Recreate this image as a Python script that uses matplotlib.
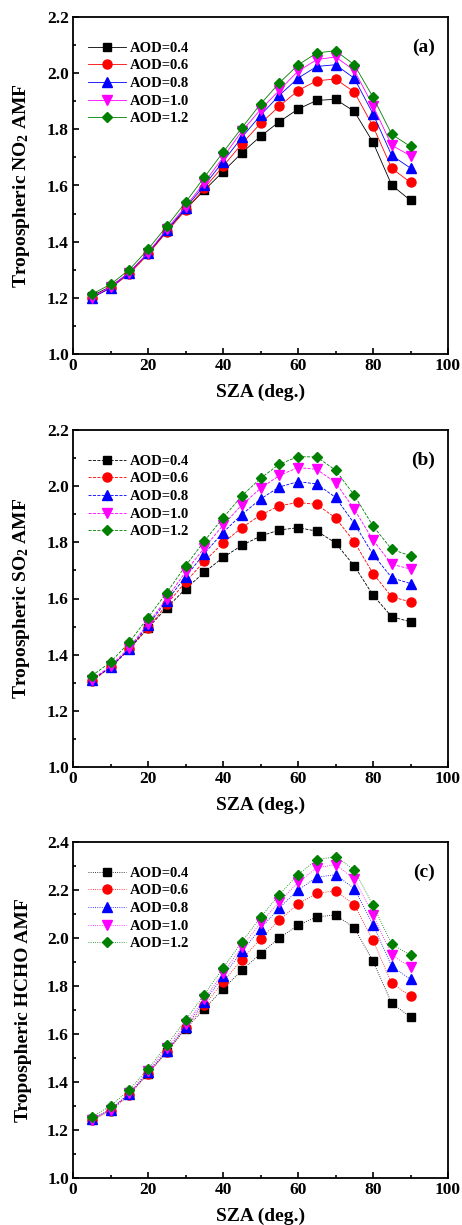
import numpy as np
import matplotlib
matplotlib.use('Agg')
import matplotlib.pyplot as plt
from matplotlib.ticker import MultipleLocator

plt.rcParams['font.family'] = ['Liberation Serif', 'DejaVu Serif']
plt.rcParams['font.weight'] = 'bold'
plt.rcParams['mathtext.fontset'] = 'custom'
plt.rcParams['mathtext.rm'] = 'Liberation Serif:bold'
plt.rcParams['mathtext.it'] = 'Liberation Serif:bold'
plt.rcParams['mathtext.bf'] = 'Liberation Serif:bold'

sza = [5, 10, 15, 20, 25, 30, 35, 40, 45, 50, 55, 60, 65, 70, 75, 80, 85, 90]
aod_labels = ['AOD=0.4', 'AOD=0.6', 'AOD=0.8', 'AOD=1.0', 'AOD=1.2']

# (a) tropospheric NO2 AMF
no2_04 = [1.207, 1.240, 1.290, 1.358, 1.438, 1.515, 1.583, 1.649, 1.716, 1.775, 1.827, 1.872, 1.903, 1.907, 1.864, 1.754, 1.601, 1.547]
no2_06 = [1.200, 1.235, 1.285, 1.355, 1.435, 1.512, 1.590, 1.668, 1.748, 1.821, 1.882, 1.938, 1.973, 1.979, 1.933, 1.811, 1.661, 1.611]
no2_08 = [1.200, 1.235, 1.290, 1.360, 1.440, 1.520, 1.600, 1.685, 1.771, 1.850, 1.921, 1.982, 2.024, 2.030, 1.982, 1.855, 1.707, 1.662]
no2_10 = [1.200, 1.240, 1.290, 1.360, 1.445, 1.525, 1.610, 1.700, 1.793, 1.870, 1.939, 2.007, 2.048, 2.058, 2.010, 1.884, 1.743, 1.706]
no2_12 = [1.213, 1.248, 1.300, 1.373, 1.455, 1.540, 1.629, 1.718, 1.805, 1.890, 1.965, 2.029, 2.072, 2.080, 2.030, 1.915, 1.782, 1.739]

# (b) tropospheric SO2 AMF
so2_04 = [1.309, 1.355, 1.420, 1.495, 1.567, 1.634, 1.693, 1.746, 1.789, 1.822, 1.844, 1.852, 1.840, 1.798, 1.716, 1.612, 1.535, 1.517]
so2_06 = [1.305, 1.355, 1.420, 1.495, 1.579, 1.659, 1.732, 1.798, 1.852, 1.897, 1.930, 1.942, 1.935, 1.887, 1.802, 1.689, 1.606, 1.588]
so2_08 = [1.310, 1.355, 1.420, 1.505, 1.592, 1.677, 1.760, 1.835, 1.899, 1.954, 1.997, 2.016, 2.008, 1.960, 1.867, 1.757, 1.674, 1.653]
so2_10 = [1.310, 1.360, 1.425, 1.510, 1.600, 1.695, 1.780, 1.861, 1.933, 1.992, 2.038, 2.066, 2.060, 2.013, 1.918, 1.808, 1.722, 1.705]
so2_12 = [1.325, 1.373, 1.444, 1.532, 1.621, 1.716, 1.804, 1.887, 1.965, 2.028, 2.078, 2.105, 2.104, 2.057, 1.968, 1.858, 1.775, 1.752]

# (c) tropospheric HCHO AMF
hcho_04 = [1.245, 1.285, 1.350, 1.435, 1.525, 1.621, 1.704, 1.788, 1.865, 1.935, 2.000, 2.053, 2.088, 2.096, 2.043, 1.903, 1.728, 1.671]
hcho_06 = [1.240, 1.280, 1.345, 1.435, 1.525, 1.625, 1.719, 1.817, 1.910, 1.996, 2.074, 2.142, 2.186, 2.197, 2.139, 1.990, 1.811, 1.758]
hcho_08 = [1.245, 1.285, 1.350, 1.440, 1.530, 1.630, 1.733, 1.840, 1.944, 2.039, 2.125, 2.200, 2.253, 2.264, 2.206, 2.056, 1.882, 1.828]
hcho_10 = [1.240, 1.285, 1.355, 1.445, 1.540, 1.640, 1.745, 1.854, 1.963, 2.063, 2.150, 2.232, 2.292, 2.306, 2.247, 2.097, 1.929, 1.879]
hcho_12 = [1.254, 1.300, 1.368, 1.454, 1.553, 1.658, 1.764, 1.875, 1.983, 2.086, 2.181, 2.264, 2.326, 2.339, 2.285, 2.136, 1.975, 1.928]

colors = ['black', 'red', 'blue', 'magenta', 'green']
markers = ['s', 'o', '^', 'v', 'D']
sizes = [5.5, 6.5, 6.5, 6.5, 5.5]

panels = [
    ([no2_04, no2_06, no2_08, no2_10, no2_12], r'Tropospheric NO$_2$ AMF', 2.2, '(a)', '-'),
    ([so2_04, so2_06, so2_08, so2_10, so2_12], r'Tropospheric SO$_2$ AMF', 2.2, '(b)', '--'),
    ([hcho_04, hcho_06, hcho_08, hcho_10, hcho_12], 'Tropospheric HCHO AMF', 2.4, '(c)', ':'),
]

fig = plt.figure(figsize=(4.62, 12.25), dpi=100)
W, H = 462, 1225
boxes = [(73, 17, 448, 354), (73, 430, 448, 767), (73, 842, 448, 1178)]

for (series, ylab, ymax, tag, ls), (l, t, r, b) in zip(panels, boxes):
    ax = fig.add_axes([l / W, 1 - b / H, (r - l) / W, (b - t) / H])
    for y, c, m, s, lab in zip(series, colors, markers, sizes, aod_labels):
        ax.plot(sza, y, color=c, marker=m, markersize=s, linestyle=ls,
                linewidth=0.6, label=lab)
    ax.set_xlim(0, 100)
    ax.set_ylim(1.0, ymax)
    ax.xaxis.set_major_locator(MultipleLocator(20))
    ax.xaxis.set_minor_locator(MultipleLocator(10))
    ax.yaxis.set_major_locator(MultipleLocator(0.2))
    ax.yaxis.set_minor_locator(MultipleLocator(0.1))
    ax.yaxis.set_major_formatter(matplotlib.ticker.FormatStrFormatter('%.1f'))
    ax.tick_params(which='both', direction='in', top=False, right=False, width=1.2)
    ax.tick_params(which='major', length=4, labelsize=12.5, pad=3)
    ax.tick_params(which='minor', length=2)
    for sp in ax.spines.values():
        sp.set_linewidth(1.3)
    ax.set_xlabel('SZA (deg.)', fontsize=14, fontweight='bold', labelpad=7)
    ax.set_ylabel(ylab, fontsize=14, fontweight='bold', labelpad=11)
    ax.text(0.965, 0.91, tag, transform=ax.transAxes, fontsize=14,
            fontweight='bold', ha='right', va='center')
    ax.legend(loc='upper left', bbox_to_anchor=(0.0, 0.97), frameon=False,
              fontsize=10.5, handlelength=2.6, handletextpad=0.3,
              labelspacing=0.3, borderaxespad=0.6)

fig.savefig('out.png', dpi=100)
